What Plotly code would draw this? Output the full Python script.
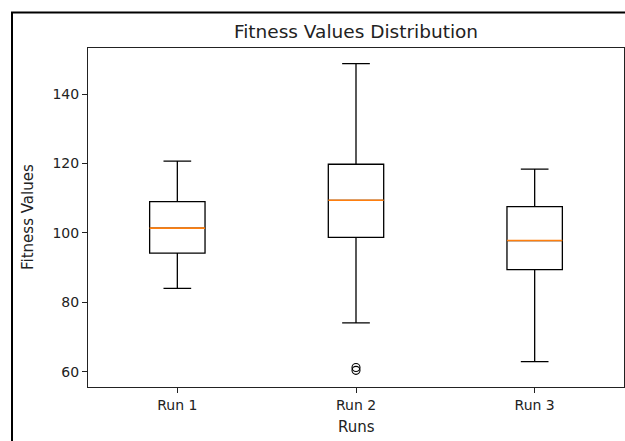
import plotly.graph_objects as go

# ---- data ----
runs = ["Run 1", "Run 2", "Run 3"]
positions = [1, 2, 3]
lower_whisker = [84.0, 74.1, 62.9]
q1_vals = [94.2, 98.7, 89.4]
medians = [101.4, 109.4, 97.8]
q3_vals = [109.0, 119.8, 107.6]
upper_whisker = [120.7, 148.8, 118.4]
outlier_runs = [2, 2]
outlier_vals = [61.2, 60.4]

box_width = 0.31
W, H = 625, 441
L, R, T, B = 88, 1, 47.5, 54
pw, ph = W - L - R, H - T - B

fig = go.Figure()
for i, pos in enumerate(positions):
    fig.add_trace(go.Box(
        x=[pos], q1=[q1_vals[i]], median=[medians[i]], q3=[q3_vals[i]],
        lowerfence=[lower_whisker[i]], upperfence=[upper_whisker[i]],
        width=box_width, whiskerwidth=0.5, boxpoints=False,
        line=dict(color="black", width=1.3), fillcolor="rgba(255,255,255,0)",
        showlegend=False, hoverinfo="skip",
    ))
    fig.add_trace(go.Scatter(
        x=[pos - box_width / 2, pos + box_width / 2], y=[medians[i], medians[i]],
        mode="lines", line=dict(color="#ff7f0e", width=1.6),
        showlegend=False, hoverinfo="skip",
    ))

fig.add_trace(go.Scatter(
    x=outlier_runs, y=outlier_vals, mode="markers",
    marker=dict(symbol="circle-open", size=8, color="black", line=dict(width=1.1)),
    showlegend=False, hoverinfo="skip",
))

font = "DejaVu Sans"
axis_common = dict(
    showline=True, mirror=True, linecolor="#222", linewidth=1,
    ticks="outside", ticklen=5, tickcolor="#222", tickwidth=1,
    showgrid=False, zeroline=False,
    tickfont=dict(family=font, size=14, color="#222"),
)

fig.update_layout(
    width=W, height=H, autosize=False,
    margin=dict(l=L, r=R, t=T, b=B, pad=0),
    paper_bgcolor="white", plot_bgcolor="white",
    boxmode="overlay",
    xaxis=dict(range=[0.5, 3.5], tickvals=positions, ticktext=runs, **axis_common),
    yaxis=dict(range=[55.6, 153.3], tickvals=[60, 80, 100, 120, 140], **axis_common),
    title=dict(text="Fitness Values Distribution", x=(L + pw / 2) / W, xanchor="center",
               y=1 - 32 / H, yanchor="middle", yref="container",
               font=dict(family=font, size=18.5, color="#222")),
    annotations=[
        dict(text="Fitness Values", xref="paper", yref="paper", x=0, y=0.5,
             xshift=27.5 - L, xanchor="center", yanchor="middle", textangle=-90,
             showarrow=False, font=dict(family=font, size=15, color="#222")),
        dict(text="Runs", xref="paper", yref="paper", x=0.5, y=0,
             yshift=-40, xanchor="center", yanchor="middle",
             showarrow=False, font=dict(family=font, size=15, color="#222")),
    ],
    shapes=[
        dict(type="line", xref="paper", yref="paper",
             x0=(12 - L) / pw, x1=(12 - L) / pw, y0=-(H - T - ph) / ph - 0.01, y1=1 + (T - 12) / ph,
             line=dict(color="black", width=2)),
        dict(type="line", xref="paper", yref="paper",
             x0=(11 - L) / pw, x1=(W - L + 2) / pw, y0=1 + (T - 12) / ph, y1=1 + (T - 12) / ph,
             line=dict(color="black", width=2)),
    ],
)

fig.write_html("out.html", config={"displayModeBar": False, "staticPlot": True},
               post_script="document.body.style.margin='0';document.body.style.overflow='hidden';")
